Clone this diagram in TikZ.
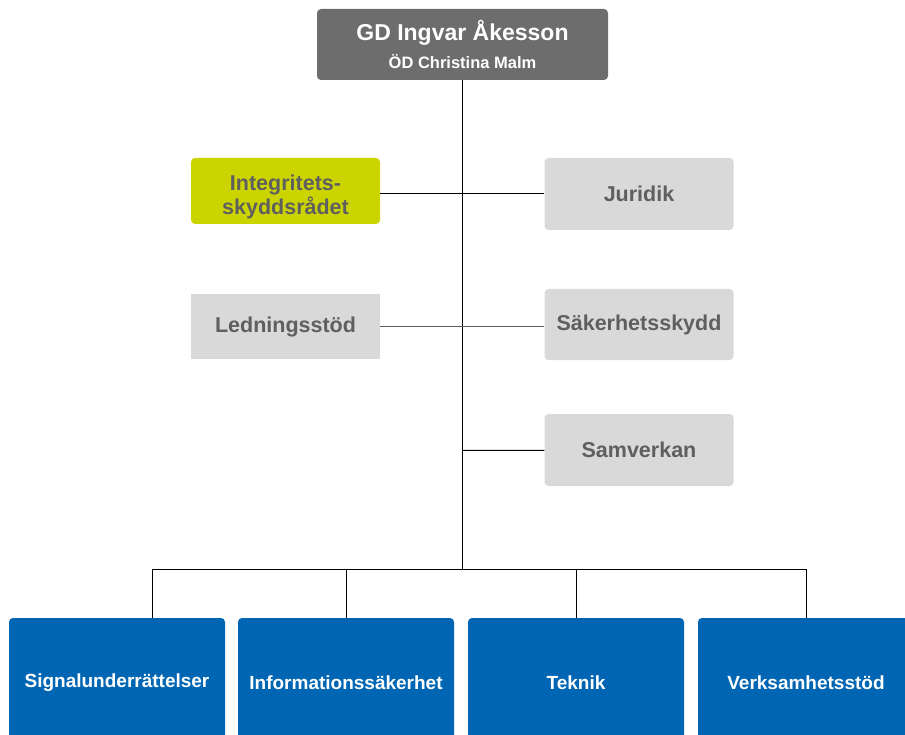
\documentclass[tikz,border=0pt]{standalone}
\usepackage{fontspec}
\setmainfont{Liberation Sans}
\definecolor{topgray}{HTML}{6D6D6D}
\definecolor{boxgray}{HTML}{D9D9D9}
\definecolor{txtgray}{HTML}{5F5F5F}
\definecolor{limegreen}{HTML}{CCD400}
\definecolor{deptblue}{HTML}{0066B3}
\begin{document}
\begin{tikzpicture}[x=1pt, y=-1pt, every node/.style={shape=rectangle, rounded corners=4pt,
                  inner sep=0pt, align=center, font=\bfseries},
                  unit/.style={fill=boxgray, text=txtgray, minimum width=189pt, font=\bfseries\fontsize{21.5}{22}\selectfont},
                  dept/.style={fill=deptblue, text=white, minimum width=216pt, minimum height=130pt, font=\bfseries\fontsize{19}{21}\selectfont}]
              \useasboundingbox (0,0) rectangle (905,735);
              \clip (0,0) rectangle (905,735);
              \node[fill=topgray, text=white, minimum width=291pt, minimum height=71pt] (gd) at (462.5,44.5)
                   {{\fontsize{23}{26}\selectfont GD Ingvar Åkesson}\\[8pt] {\fontsize{16.5}{18}\selectfont ÖD Christina Malm}};
              \node[unit, fill=limegreen, minimum height=66pt] (isr) at (285.5,191)
                   {\rule{0pt}{28pt}Integritets-\\[1pt]skyddsrådet};
              \node[unit, minimum height=72pt] (jur) at (639,194) {Juridik};
              \node[unit, minimum height=65pt, rounded corners=0pt] (led) at (285.5,326.5) {Ledningsstöd};
              \node[unit, minimum height=71pt] (sak) at (639,324.5) {Säkerhetsskydd};
              \node[unit, minimum height=72pt] (sam) at (639,450) {Samverkan};
              \node[dept] (sig) at (117,683) {Signalunderrättelser};
              \node[dept] (inf) at (346,683) {Informationssäkerhet};
              \node[dept] (tek) at (576,683) {Teknik};
              \node[dept] (ver) at (806,683) {Verksamhetsstöd};
              \coordinate (hub) at (462.5,569.5);
              \coordinate (hsam) at (462.5,450.5);
              \coordinate (sigtop) at (152.5,618);
              \draw[line width=1pt] (gd) -- (hub);
              \draw[line width=1pt] (jur.west) ++(0,-0.5) -- (isr.east |- 0,193.5);
              \draw[txtgray, line width=1.2pt] (led.east) -- (led.east -| sak.west);
              \draw[line width=1pt] (hsam) -- (sam);
              \draw[line width=1pt] (sigtop) |- (hub) -| (ver.north);
              \draw[line width=1pt] (inf.north) -- (inf.north |- hub);
              \draw[line width=1pt] (tek.north) -- (tek.north |- hub);
          \end{tikzpicture}
\end{document}
